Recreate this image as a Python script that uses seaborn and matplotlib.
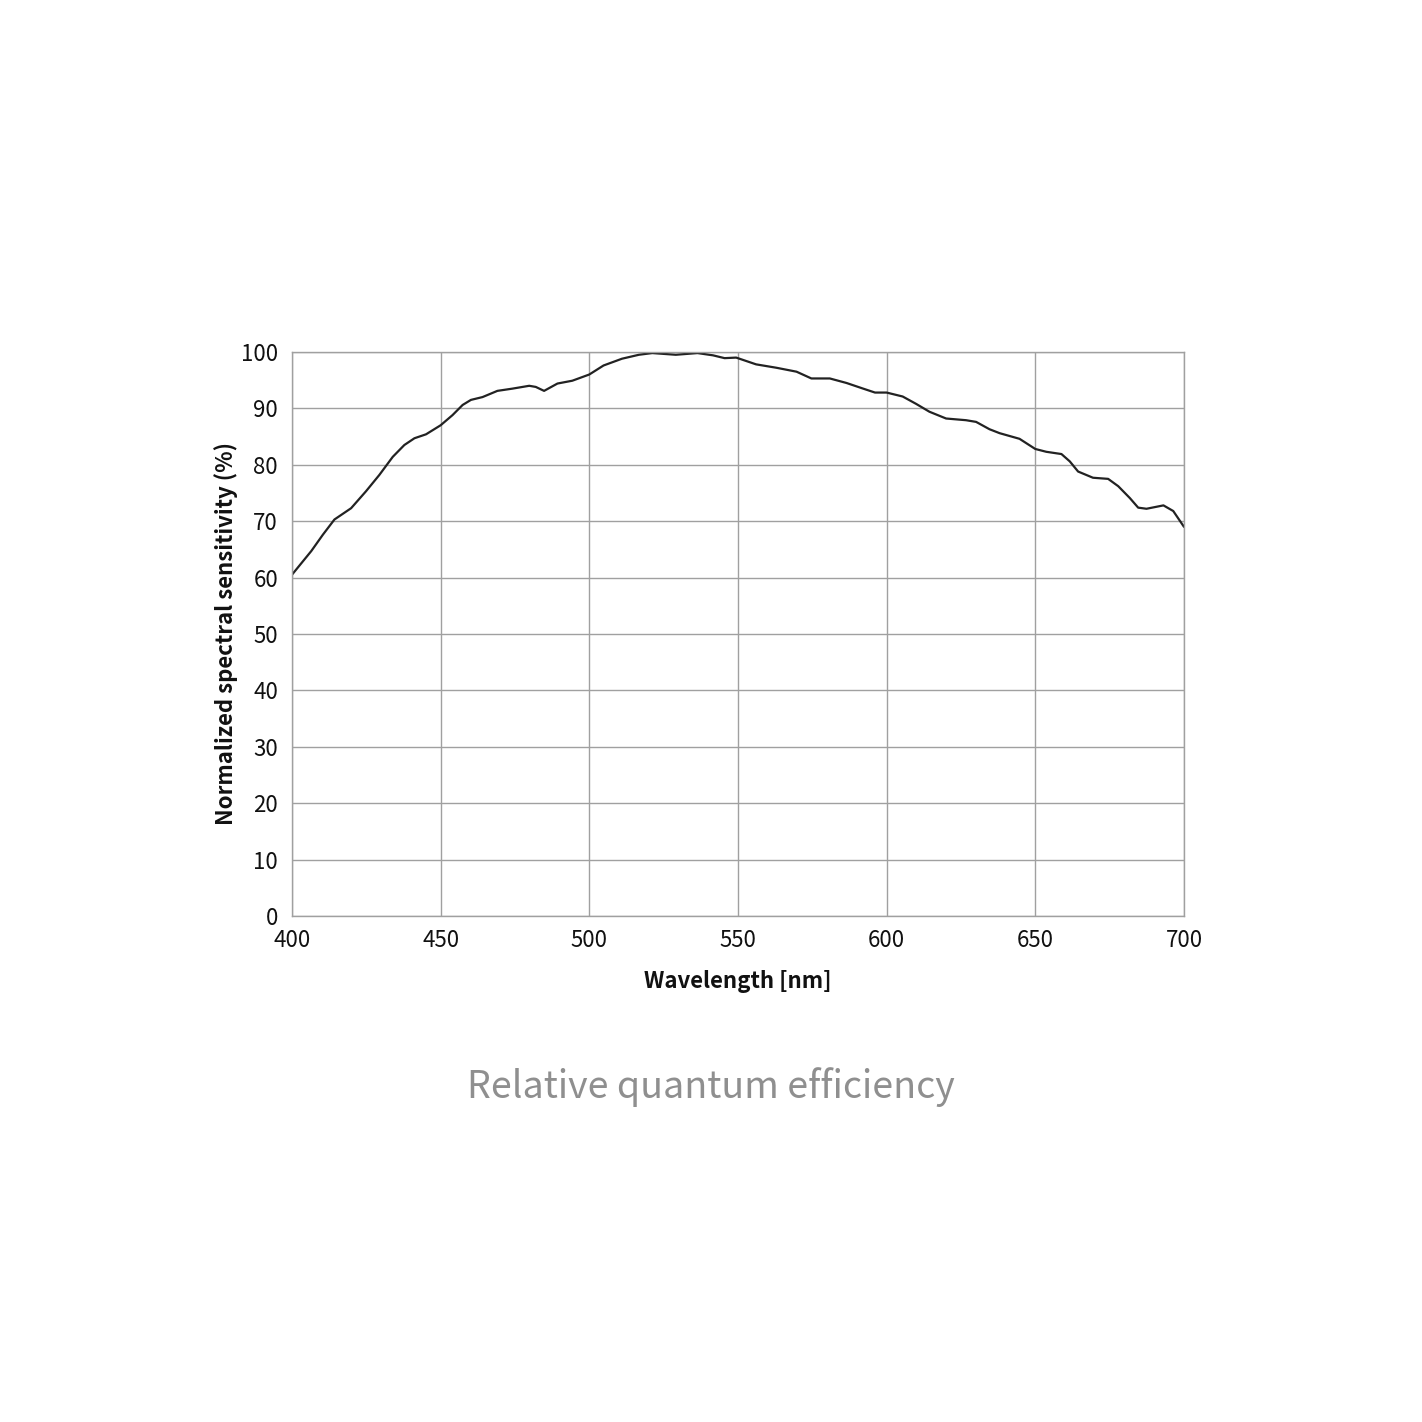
import numpy as np
import pandas as pd
import matplotlib
matplotlib.use("Agg")
import matplotlib.pyplot as plt
import seaborn as sns

# Relative quantum efficiency curve
wavelength = [400, 406.5, 410.4, 414.3, 419.9, 424.9, 429.4, 433.9, 437.8, 441.2,
              445.1, 450, 454, 457.4, 460.2, 464.1, 469.1, 474.2, 479.8, 482,
              484.8, 489.3, 494.3, 500, 504.8, 511, 516.7, 521.2, 529.1, 536.4,
              541.6, 545.5, 549.4, 556.1, 562.9, 569.7, 574.7, 580.9, 586.5, 592.1,
              596.1, 600, 605.4, 609.9, 614.4, 620, 626.7, 630.1, 634.6, 638,
              644.7, 650, 653.7, 658.8, 661.6, 664.4, 669.4, 674.5, 677.9, 681.8,
              684.6, 687.4, 693.1, 696.4, 700]
sensitivity = [60.5, 64.7, 67.6, 70.3, 72.3, 75.3, 78.2, 81.4, 83.5, 84.7,
               85.4, 87.0, 88.8, 90.6, 91.5, 92.0, 93.1, 93.5, 94.0, 93.8,
               93.1, 94.4, 94.9, 96.0, 97.6, 98.8, 99.5, 99.8, 99.5, 99.8,
               99.4, 98.9, 99.0, 97.8, 97.2, 96.5, 95.3, 95.3, 94.5, 93.5,
               92.8, 92.8, 92.1, 90.8, 89.4, 88.2, 87.9, 87.6, 86.3, 85.6,
               84.6, 82.8, 82.3, 81.9, 80.6, 78.8, 77.7, 77.5, 76.2, 74.1,
               72.4, 72.2, 72.8, 71.8, 69.0]

x_ticks = [400, 450, 500, 550, 600, 650, 700]
y_ticks = list(range(0, 101, 10))

df = pd.DataFrame({"wavelength": wavelength, "sensitivity": sensitivity})

sns.set_theme(style="white")
plt.rcParams['font.family'] = ['Noto Sans CJK JP', 'DejaVu Sans']

fig = plt.figure(figsize=(14.22, 14.22), dpi=100)
ax = fig.add_axes([0.2053, 0.3558, 0.6273, 0.3967])

sns.lineplot(data=df, x="wavelength", y="sensitivity", ax=ax,
             color="#222222", linewidth=1.6)

ax.set_xlim(400, 700)
ax.set_ylim(0, 100)
ax.set_xticks(x_ticks)
ax.set_yticks(y_ticks)
ax.grid(True, color="#a0a0a0", linewidth=1)
for s in ax.spines.values():
    s.set_color("#a0a0a0")
    s.set_linewidth(1)
ax.tick_params(axis="both", length=0, labelsize=16, colors="#111111")
ax.tick_params(axis="x", pad=9)
ax.tick_params(axis="y", pad=10)

ax.set_xlabel("Wavelength [nm]", fontsize=16, fontweight="bold", labelpad=13,
              color="#111111")
ax.set_ylabel("Normalized spectral sensitivity (%)", fontsize=16,
              fontweight="bold", labelpad=2, color="#111111")

fig.text(0.5, 1 - 1087 / 1422, "Relative quantum efficiency", ha="center",
         va="center", fontsize=27, color="#8f8f8f")

plt.savefig("out.png", dpi=100)
